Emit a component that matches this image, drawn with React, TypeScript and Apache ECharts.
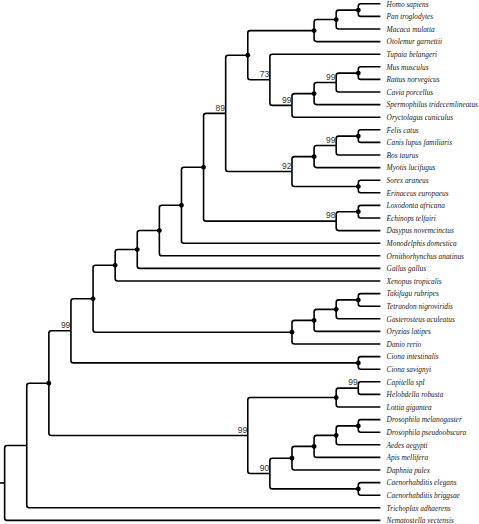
import React, { useEffect, useRef } from "react";
import * as echarts from "echarts";

// Leaves, top to bottom, with their parent clade
const leafNames = [
  "Homo sapiens", "Pan troglodytes", "Macaca mulatta", "Otolemur garnettii",
  "Tupaia belangeri", "Mus musculus", "Rattus norvegicus", "Cavia porcellus",
  "Spermophilus tridecemlineatus", "Oryctolagus cuniculus", "Felis catus",
  "Canis lupus familiaris", "Bos taurus", "Myotis lucifugus", "Sorex araneus",
  "Erinaceus europaeus", "Loxodonta africana", "Echinops telfairi",
  "Dasypus novemcinctus", "Monodelphis domestica", "Ornithorhynchus anatinus",
  "Gallus gallus", "Xenopus tropicalis", "Takifugu rubripes",
  "Tetraodon nigroviridis", "Gasterosteus aculeatus", "Oryzias latipes",
  "Danio rerio", "Ciona intestinalis", "Ciona savignyi", "Capitella spI",
  "Helobdella robusta", "Lottia gigantea", "Drosophila melanogaster",
  "Drosophila pseudoobscura", "Aedes aegypti", "Apis mellifera",
  "Daphnia pulex", "Caenorhabditis elegans", "Caenorhabditis briggsae",
  "Trichoplax adhaerens", "Nematostella vectensis",
];
const leafParents = [
  "Hominidae", "Hominidae", "Catarrhini", "Primates",
  "ScandentiaGlires", "Muridae", "Muridae", "MuroidCavia",
  "Rodentia", "Glires", "Carnivora",
  "Carnivora", "Ferungulata", "Scrotifera", "Eulipotyphla",
  "Eulipotyphla", "Afrotheria", "Afrotheria",
  "Atlantogenata", "Theria", "Mammalia",
  "Amniota", "Tetrapoda", "Tetraodontidae",
  "Tetraodontidae", "Eupercaria", "Percomorpha",
  "Teleostei", "Ciona", "Ciona", "Annelida",
  "Annelida", "Lophotrochozoa", "Drosophila",
  "Drosophila", "Diptera", "Insecta",
  "Arthropoda", "Caenorhabditis", "Caenorhabditis",
  "ParaHoxozoa", "root",
];

// Internal clades, their parents and bootstrap support (100 = dot, null = nothing shown)
const cladeNames = [
  "root", "ParaHoxozoa", "Bilateria", "Chordata", "Osteichthyes", "Tetrapoda",
  "Amniota", "Mammalia", "Theria", "Eutheria", "Boreoeutheria",
  "Euarchontoglires", "Primates", "Catarrhini", "Hominidae",
  "ScandentiaGlires", "Glires", "Rodentia", "MuroidCavia", "Muridae",
  "Laurasiatheria", "Scrotifera", "Ferungulata", "Carnivora", "Eulipotyphla",
  "Atlantogenata", "Afrotheria", "Teleostei", "Percomorpha", "Eupercaria",
  "Tetraodontidae", "Ciona", "Protostomia", "Lophotrochozoa", "Annelida",
  "Ecdysozoa", "Arthropoda", "Insecta", "Diptera", "Drosophila",
  "Caenorhabditis",
];
const cladeParents = [
  null, "root", "ParaHoxozoa", "Bilateria", "Chordata", "Osteichthyes",
  "Tetrapoda", "Amniota", "Mammalia", "Theria", "Eutheria",
  "Boreoeutheria", "Euarchontoglires", "Primates", "Catarrhini",
  "Euarchontoglires", "ScandentiaGlires", "Glires", "Rodentia", "MuroidCavia",
  "Boreoeutheria", "Laurasiatheria", "Scrotifera", "Ferungulata", "Laurasiatheria",
  "Eutheria", "Atlantogenata", "Osteichthyes", "Teleostei", "Percomorpha",
  "Eupercaria", "Chordata", "Bilateria", "Protostomia", "Lophotrochozoa",
  "Protostomia", "Ecdysozoa", "Arthropoda", "Insecta", "Diptera",
  "Ecdysozoa",
];
const cladeSupport: (number | null)[] = [
  null, null, 100, 99, 100, 100,
  100, 100, 100, 100, 89,
  100, 100, 100, 100,
  73, 99, 100, 99, 100,
  92, 100, 99, 100, 100,
  98, 100, 100, 100, 100,
  100, 100, 99, 100, 99,
  90, 100, 100, 100, 100,
  100,
];
const rootStubLength = 0.21;

function buildLayout() {
  const children: Record<string, string[]> = {};
  cladeNames.forEach((n) => (children[n] = []));
  cladeNames.forEach((n, i) => {
    const p = cladeParents[i];
    if (p) children[p].push(n);
  });
  leafNames.forEach((_, i) => children[leafParents[i]].push("leaf:" + i));
  const height: Record<string, number> = {};
  const yPos: Record<string, number> = {};
  const visit = (id: string) => {
    if (id.startsWith("leaf:")) {
      height[id] = 0;
      yPos[id] = +id.slice(5);
      return;
    }
    let h = 0;
    const ys: number[] = [];
    for (const c of children[id]) {
      visit(c);
      h = Math.max(h, height[c] + 1);
      ys.push(yPos[c]);
    }
    height[id] = h;
    yPos[id] = (Math.min(...ys) + Math.max(...ys)) / 2;
  };
  visit("root");
  const maxH = height["root"];
  const xOf = (id: string) => maxH - height[id];
  const edges: number[][] = [];
  cladeNames.forEach((n) => {
    for (const c of children[n]) edges.push([xOf(n), yPos[n], xOf(c), yPos[c]]);
  });
  edges.push([-rootStubLength, yPos["root"], 0, yPos["root"]]);
  const dots: number[][] = [];
  const supports: any[] = [];
  cladeNames.forEach((n, i) => {
    const s = cladeSupport[i];
    if (s === 100) dots.push([xOf(n), yPos[n]]);
    else if (s != null) supports.push([xOf(n), yPos[n], String(s)]);
  });
  const leaves = leafNames.map((name, i) => [maxH, i, name]);
  return { edges, dots, supports, leaves, maxH };
}

export default function App() {
  const ref = useRef<HTMLDivElement>(null);
  useEffect(() => {
    if (!ref.current) return;
    const chart = echarts.init(ref.current, null, { renderer: "svg" });
    const { edges, dots, supports, leaves, maxH } = buildLayout();
    chart.setOption({
      animation: false,
      grid: { left: 0, right: 98.6, top: 3.8, bottom: 3.6 },
      xAxis: { type: "value", min: -rootStubLength, max: maxH, show: false },
      yAxis: { type: "value", min: 0, max: leafNames.length - 1, inverse: true, show: false },
      series: [
        {
          type: "custom",
          clip: false,
          data: edges,
          renderItem: (params: any, api: any) => {
            const p = api.coord([api.value(0), api.value(1)]);
            const c = api.coord([api.value(2), api.value(3)]);
            const dy = c[1] - p[1];
            let d: string;
            if (Math.abs(dy) < 0.01) {
              d = `M${p[0]},${p[1]}L${c[0]},${c[1]}`;
            } else {
              const r = Math.min(2.5, Math.abs(dy));
              const s = Math.sign(dy);
              d = `M${p[0]},${p[1]}L${p[0]},${c[1] - s * r}Q${p[0]},${c[1]} ${p[0] + r},${c[1]}L${c[0]},${c[1]}`;
            }
            return {
              type: "path",
              shape: { pathData: d },
              style: { stroke: "#000", lineWidth: 1.6, fill: "none" },
            };
          },
        },
        {
          type: "custom",
          clip: false,
          data: dots,
          renderItem: (params: any, api: any) => {
            const p = api.coord([api.value(0), api.value(1)]);
            return { type: "circle", shape: { cx: p[0], cy: p[1], r: 2.4 }, style: { fill: "#000", stroke: "none" } };
          },
        },
        {
          type: "custom",
          clip: false,
          data: supports,
          renderItem: (params: any, api: any) => {
            const p = api.coord([api.value(0), api.value(1)]);
            return {
              type: "text",
              x: p[0] - 0.6,
              y: p[1] - 1.2,
              style: {
                text: supports[params.dataIndex][2],
                fontSize: 8.5,
                fontFamily: '"Liberation Sans", Arial, sans-serif',
                fill: "#333",
                stroke: "none",
                lineWidth: 0,
                align: "right",
                verticalAlign: "bottom",
              },
            };
          },
        },
        {
          type: "custom",
          clip: false,
          data: leaves,
          renderItem: (params: any, api: any) => {
            const p = api.coord([api.value(0), api.value(1)]);
            return {
              type: "text",
              x: p[0] + 6.2,
              y: p[1],
              scaleX: 0.8,
              style: {
                text: leaves[params.dataIndex][2],
                x: 0,
                y: 0,
                fontSize: 9.2,
                fontStyle: "italic",
                fontFamily: '"Liberation Serif", "Times New Roman", serif',
                fill: "#1a1a1a",
                stroke: "none",
                lineWidth: 0,
                align: "left",
                verticalAlign: "middle",
              },
            };
          },
        },
      ],
    });
    return () => chart.dispose();
  }, []);
  return (
    <div
      ref={ref}
      style={{ position: "absolute", left: 0, top: 0, width: 479, height: 524, background: "#fff" }}
    />
  );
}
